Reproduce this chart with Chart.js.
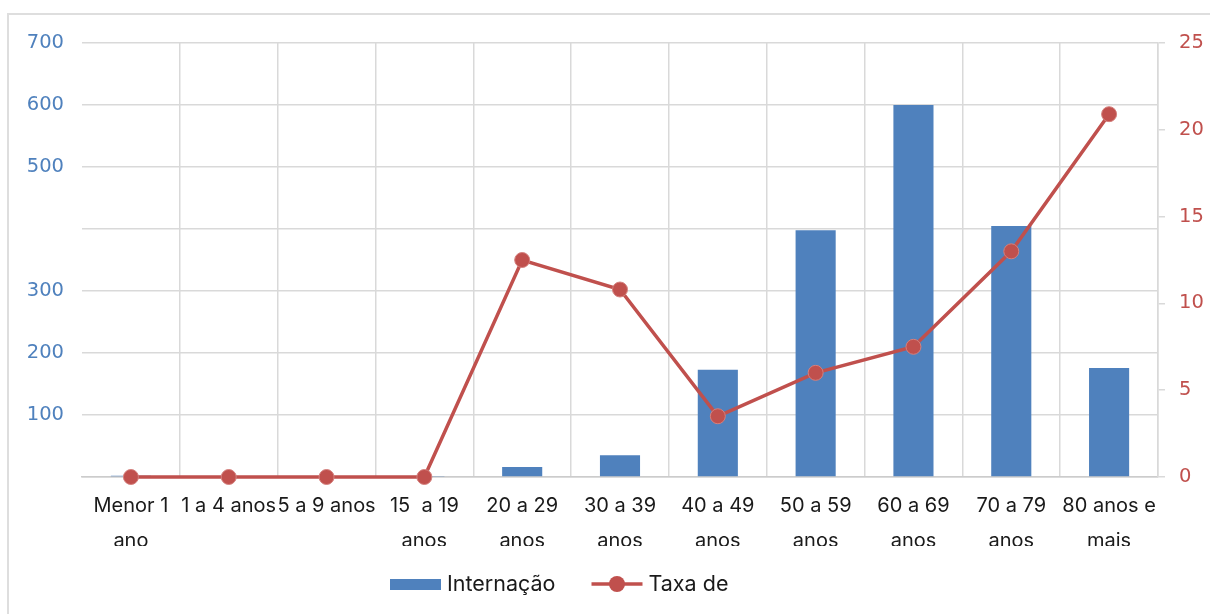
<!DOCTYPE html>
<html lang="pt">
<head>
<meta charset="utf-8">
<title>Internações e taxa por faixa etária</title>
<script src="https://cdn.jsdelivr.net/npm/chart.js@4/dist/chart.umd.min.js"></script>
<style>
  html, body { margin: 0; padding: 0; background: #ffffff; overflow: hidden; }
  #wrap { position: relative; width: 1210px; height: 614px; }
  #frame { position: absolute; left: 7px; top: 13px; width: 1400px; height: 800px;
           border-top: 2px solid #dedede; border-left: 2px solid #dedede; box-sizing: border-box; }
  #chart { position: absolute; left: 0; top: 0; }
</style>
</head>
<body>
<div id="wrap">
  <div id="frame"></div>
  <canvas id="chart" width="1210" height="614"></canvas>
</div>
<script>
// Faixas etárias (eixo das categorias)
const faixas = [
  ["Menor 1", "ano"],
  "1 a 4 anos",
  "5 a 9 anos",
  ["15  a 19", "anos"],
  ["20 a 29", "anos"],
  ["30 a 39", "anos"],
  ["40 a 49", "anos"],
  ["50 a 59", "anos"],
  ["60 a 69", "anos"],
  ["70 a 79", "anos"],
  ["80 anos e", "mais"]
];

// Número de internações por faixa (eixo esquerdo)
const internacoes = [2, 0, 0, 1, 16, 35, 173, 398, 600, 405, 176];

// Taxa por faixa (eixo direito)
const taxa = [0, 0, 0, 0, 12.5, 10.8, 3.5, 6.0, 7.5, 13.0, 20.9];

// Rótulos das séries
const serieBarras = "Internação";
const serieLinha = "Taxa de";

// Marcas do eixo esquerdo que ficam sem rótulo
const eixoEsqOcultos = [0, 400];

const AZUL = '#4f81bd';
const VERMELHO = '#c0504d';
const GRADE = '#d9d9d9';
const TEXTO = '#1a1a1a';

// Recorta a segunda linha dos rótulos das categorias
const recorteRotulos = {
  id: 'recorteRotulos',
  afterLayout(chart) {
    const sx = chart.scales.x;
    if (!sx || sx._recortado) return;
    const original = sx.drawLabels;
    sx.drawLabels = function (area) {
      const ctx = this.ctx;
      ctx.save();
      ctx.beginPath();
      ctx.rect(0, 0, chart.width, 546);
      ctx.clip();
      original.call(this, area);
      ctx.restore();
    };
    sx._recortado = true;
  }
};

// Legenda desenhada abaixo do gráfico
const legendaInferior = {
  id: 'legendaInferior',
  afterDraw(chart) {
    const ctx = chart.ctx;
    const ds = chart.data.datasets;
    const yc = 585;
    let x = 390;
    ctx.save();
    ctx.font = '21.5px Inter, "Noto Sans", sans-serif';
    ctx.textBaseline = 'middle';
    ctx.textAlign = 'left';

    // série de barras
    ctx.fillStyle = ds[0].backgroundColor;
    ctx.fillRect(x, 579, 51, 11);
    x += 51 + 6;
    ctx.fillStyle = TEXTO;
    ctx.fillText(ds[0].label, x, yc);
    x += ctx.measureText(ds[0].label).width + 36;

    // série de linha
    ctx.strokeStyle = ds[1].borderColor;
    ctx.lineWidth = 3.5;
    ctx.beginPath();
    ctx.moveTo(x, 584);
    ctx.lineTo(x + 51, 584);
    ctx.stroke();
    ctx.beginPath();
    ctx.arc(x + 25.5, 584, 8, 0, Math.PI * 2);
    ctx.fillStyle = ds[1].pointBackgroundColor;
    ctx.fill();
    x += 51 + 6;
    ctx.fillStyle = TEXTO;
    ctx.fillText(ds[1].label, x, yc);
    ctx.restore();
  }
};

new Chart(document.getElementById('chart'), {
  data: {
    labels: faixas,
    datasets: [
      {
        type: 'bar',
        label: serieBarras,
        data: internacoes,
        backgroundColor: AZUL,
        borderWidth: 0,
        categoryPercentage: 1,
        barPercentage: 0.41,
        yAxisID: 'y',
        order: 1
      },
      {
        type: 'line',
        label: serieLinha,
        data: taxa,
        borderColor: VERMELHO,
        borderWidth: 3.5,
        pointRadius: 7.5,
        pointBackgroundColor: VERMELHO,
        pointBorderColor: '#d4807d',
        pointBorderWidth: 1,
        tension: 0,
        clip: false,
        yAxisID: 'y1',
        order: 0
      }
    ]
  },
  options: {
    responsive: false,
    devicePixelRatio: 1,
    animation: false,
    events: [],
    layout: { padding: { top: 43, left: 0, right: 0, bottom: 0 } },
    plugins: {
      legend: { display: false },
      tooltip: { enabled: false }
    },
    scales: {
      x: {
        offset: true,
        afterFit(scale) { scale.height = 137; },
        grid: {
          color: (c) => (c.index === 0 ? 'rgba(0,0,0,0)' : GRADE),
          lineWidth: 1.5,
          drawTicks: false
        },
        border: { display: true, color: '#cccccc', width: 1.5 },
        ticks: {
          autoSkip: false,
          maxRotation: 0,
          minRotation: 0,
          padding: 12,
          color: TEXTO,
          font: { family: 'Inter, "Noto Sans", sans-serif', size: 20, lineHeight: 1.72 }
        }
      },
      y: {
        position: 'left',
        min: 0,
        max: 700,
        afterFit(scale) { scale.width = 82; },
        grid: { color: GRADE, lineWidth: 1.5, drawTicks: false },
        border: { display: false },
        ticks: {
          stepSize: 100,
          padding: 18,
          color: AZUL,
          font: { family: '"DejaVu Sans", sans-serif', size: 19.5 },
          callback: (v) => (eixoEsqOcultos.includes(v) ? '' : v)
        }
      },
      y1: {
        position: 'right',
        min: 0,
        max: 25,
        afterFit(scale) { scale.width = 52; },
        grid: {
          drawOnChartArea: false,
          drawTicks: true,
          tickLength: 7,
          color: GRADE,
          lineWidth: 1.5
        },
        border: { display: true, color: GRADE, width: 1.5 },
        ticks: {
          stepSize: 5,
          padding: 14,
          color: VERMELHO,
          font: { family: '"DejaVu Sans", sans-serif', size: 19.5 }
        }
      }
    }
  },
  plugins: [recorteRotulos, legendaInferior]
});
</script>
</body>
</html>
